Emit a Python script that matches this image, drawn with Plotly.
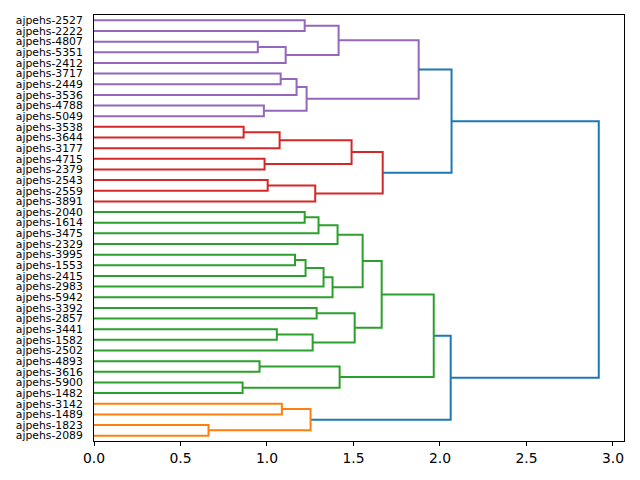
import plotly.graph_objects as go

# Leaf labels, top to bottom as displayed
leaves = ["ajpehs-2527", "ajpehs-2222", "ajpehs-4807", "ajpehs-5351", "ajpehs-2412",
          "ajpehs-3717", "ajpehs-2449", "ajpehs-3536", "ajpehs-4788", "ajpehs-5049",
          "ajpehs-3538", "ajpehs-3644", "ajpehs-3177", "ajpehs-4715", "ajpehs-2379",
          "ajpehs-2543", "ajpehs-2559", "ajpehs-3891", "ajpehs-2040", "ajpehs-1614",
          "ajpehs-3475", "ajpehs-2329", "ajpehs-3995", "ajpehs-1553", "ajpehs-2415",
          "ajpehs-2983", "ajpehs-5942", "ajpehs-3392", "ajpehs-2857", "ajpehs-3441",
          "ajpehs-1582", "ajpehs-2502", "ajpehs-4893", "ajpehs-3616", "ajpehs-5900",
          "ajpehs-1482", "ajpehs-3142", "ajpehs-1489", "ajpehs-1823", "ajpehs-2089"]

# Merges: (id, child_a, child_b, distance)
merge_ids = ["P1", "P2", "P3", "P4", "P5", "P6", "P7", "P8", "P9",
             "R1", "R2", "R3", "R4", "R5", "R6", "R7", "B1",
             "G1", "G2", "G3", "G4", "G5", "G6", "G7", "G8", "G9", "G10",
             "G11", "G12", "G13", "G14", "G15", "G16", "G17",
             "O1", "O2", "O3", "B2", "B3"]
merge_a = ["ajpehs-2527", "ajpehs-4807", "P2", "P1", "ajpehs-3717", "P5", "ajpehs-4788", "P6", "P4",
           "ajpehs-3538", "R1", "ajpehs-4715", "R2", "ajpehs-2543", "R5", "R4", "P9",
           "ajpehs-2040", "G1", "G2", "ajpehs-3995", "G4", "G5", "G6", "G3", "ajpehs-3392", "ajpehs-3441",
           "G10", "G9", "G8", "ajpehs-4893", "ajpehs-5900", "G14", "G13",
           "ajpehs-3142", "ajpehs-1823", "O1", "G17", "B1"]
merge_b = ["ajpehs-2222", "ajpehs-5351", "ajpehs-2412", "P3", "ajpehs-2449", "ajpehs-3536", "ajpehs-5049", "P7", "P8",
           "ajpehs-3644", "ajpehs-3177", "ajpehs-2379", "R3", "ajpehs-2559", "ajpehs-3891", "R6", "R7",
           "ajpehs-1614", "ajpehs-3475", "ajpehs-2329", "ajpehs-1553", "ajpehs-2415", "ajpehs-2983", "ajpehs-5942", "G7", "ajpehs-2857", "ajpehs-1582",
           "ajpehs-2502", "G11", "G12", "ajpehs-3616", "ajpehs-1482", "G15", "G16",
           "ajpehs-1489", "ajpehs-2089", "O2", "O3", "B2"]
merge_dist = [1.218, 0.947, 1.108, 1.414, 1.079, 1.171, 0.982, 1.229, 1.877,
              0.865, 1.073, 0.986, 1.489, 1.004, 1.279, 1.669, 2.067,
              1.218, 1.298, 1.408, 1.162, 1.223, 1.327, 1.379, 1.553, 1.287, 1.057,
              1.264, 1.507, 1.663, 0.957, 0.859, 1.420, 1.964,
              1.086, 0.662, 1.252, 2.062, 2.918]

palette = ["#ff7f0e", "#2ca02c", "#d62728", "#9467bd", "#8c564b", "#e377c2", "#7f7f7f", "#bcbd22", "#17becf"]
above_color = "#1f77b4"

n = len(leaves)
pos = {lab: 10 * (n - 1 - i) + 5 for i, lab in enumerate(leaves)}
height = {lab: 0.0 for lab in leaves}
children = {}
for mid, a, b, d in zip(merge_ids, merge_a, merge_b, merge_dist):
    pos[mid] = (pos[a] + pos[b]) / 2
    height[mid] = d
    children[mid] = (a, b)

threshold = 0.7 * max(merge_dist)

# assign colours to subtrees below threshold, ordered from bottom leaf upward
color_of = {}
root = merge_ids[-1]
cluster_roots = []


def find(node):
    if node in children and height[node] >= threshold:
        for c in children[node]:
            find(c)
    elif node in children:
        cluster_roots.append(node)


find(root)
cluster_roots.sort(key=lambda m: pos[m])


def paint(node, col):
    if node in children:
        color_of[node] = col
        for c in children[node]:
            paint(c, col)


for k, cr in enumerate(cluster_roots):
    paint(cr, palette[k % len(palette)])
for mid in merge_ids:
    if mid not in color_of:
        color_of[mid] = above_color

segs = {}
for mid in merge_ids:
    a, b = children[mid]
    xs = [height[a], height[mid], height[mid], height[b], None]
    ys = [pos[a], pos[a], pos[b], pos[b], None]
    col = color_of[mid]
    segs.setdefault(col, ([], []))
    segs[col][0].extend(xs)
    segs[col][1].extend(ys)

fig = go.Figure()
for col, (xs, ys) in segs.items():
    fig.add_trace(go.Scatter(x=xs, y=ys, mode="lines",
                             line=dict(color=col, width=2), showlegend=False,
                             hoverinfo="skip"))

fig.update_layout(
    width=640, height=480,
    margin=dict(l=94, r=16, t=15, b=39),
    plot_bgcolor="white", paper_bgcolor="white",
    font=dict(family="DejaVu Sans", color="black"),
    showlegend=False,
)
fig.update_xaxes(range=[0, 1.05 * max(merge_dist)],
                 tickvals=[0, 0.5, 1.0, 1.5, 2.0, 2.5, 3.0],
                 ticktext=["0.0", "0.5", "1.0", "1.5", "2.0", "2.5", "3.0"],
                 ticks="outside", ticklen=4, tickwidth=1, tickcolor="black",
                 tickfont=dict(size=13.9, family="DejaVu Sans"),
                 showline=True, linecolor="black", linewidth=1, mirror=True,
                 showgrid=False, zeroline=False, automargin=False)
fig.update_yaxes(range=[0, 10 * n],
                 tickvals=[pos[l] for l in leaves], ticktext=leaves,
                 ticks="", ticklabelstandoff=8,
                 tickfont=dict(size=10.8, family="DejaVu Sans"),
                 showline=True, linecolor="black", linewidth=1, mirror=True,
                 showgrid=False, zeroline=False, automargin=False)

fig.write_html("out.html")
